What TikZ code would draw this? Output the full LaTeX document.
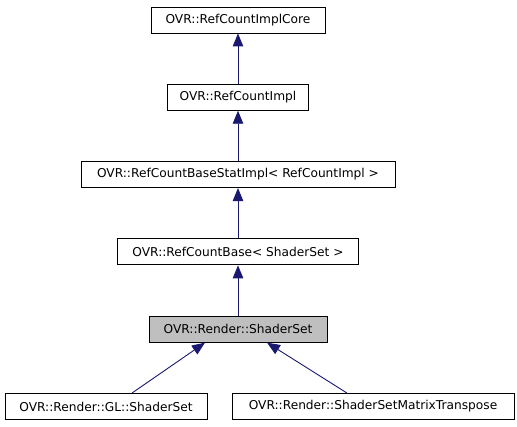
\documentclass[tikz,border=0pt]{standalone}
\usepackage{fontspec}
\setmainfont{DejaVu Sans}
\usetikzlibrary{arrows.meta}
\usetikzlibrary{positioning}
\definecolor{edgeblue}{HTML}{191970}
\definecolor{boxgray}{HTML}{BFBFBF}

\begin{document}
\begin{tikzpicture}[x=1pt, y=-1pt,
    cls/.style={draw=black, line width=0.9pt, minimum height=26pt, inner sep=0pt,
                font=\fontsize{12.2}{14}\selectfont},
    inh/.style={draw=edgeblue, line width=0.9pt, -{Triangle[length=13pt,width=10.5pt]}}]

    \useasboundingbox (0,0) rectangle (517,427);

    \def\cx{238};
    \def\dy{77.3};
    \def\ytop{20};

    % inheritance chain
    \foreach \i/\name/\w/\fc/\txt in {0/core/174/white/OVR::RefCountImplCore,
                                      1/impl/141/white/OVR::RefCountImpl,
                                      2/statimpl/314/white/OVR::RefCountBaseStatImpl< RefCountImpl >,
                                      3/base/241/white/OVR::RefCountBase< ShaderSet >,
                                      4/shaderset/178/boxgray/OVR::Render::ShaderSet} {
        \node[cls, fill=\fc, minimum width=\w pt] (\name) at (\cx, \ytop + \i*\dy) {\txt};
    }

    % derived classes
    \node[cls, fill=white, minimum width=202pt] (gl)  at (106, \ytop + 5*\dy) {OVR::Render::GL::ShaderSet};
    \node[cls, fill=white, minimum width=282pt] (mtx) at (373, \ytop + 5*\dy) {OVR::Render::ShaderSetMatrixTranspose};

    \foreach \a/\b in {impl/core, statimpl/impl, base/statimpl, shaderset/base} {
        \draw[inh] (\a) -- (\b);
    }

    \draw[inh] ([xshift=26pt]gl.north) -- ([xshift=-33pt]shaderset.south);
    \draw[inh] ([xshift=-26pt]mtx.north) -- ([xshift=29pt]shaderset.south);

\end{tikzpicture}
\end{document}
